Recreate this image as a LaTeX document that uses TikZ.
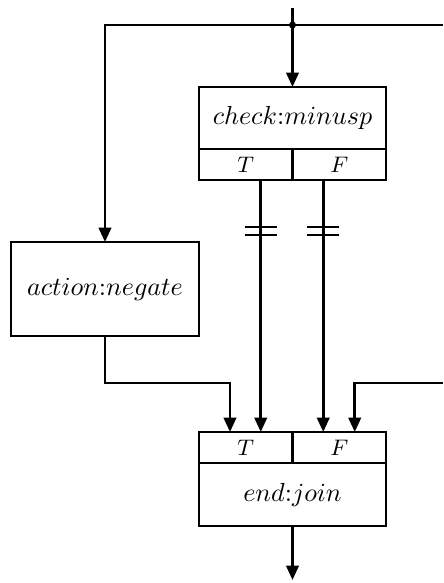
\documentclass[tikz,border=0pt]{standalone}
\usepackage{amsmath}
\usepackage{graphicx}
\usepackage{tikz}
\usetikzlibrary{arrows.meta}

\newcommand{\blocklabel}[1]{\scalebox{1.045}{$#1$}}

\begin{document}
\begin{tikzpicture}[x=0.4pt,y=-0.4pt]
        \tikzset{box/.style = {draw, rectangle, line width=1.1pt, inner sep=0pt, outer sep=0pt,
                               font=\normalsize}}
        \tikzset{cell/.style = {box, minimum width=37.4pt, minimum height=12.4pt,
                                font=\fontsize{8.6pt}{10pt}\selectfont}}
        \tikzset{edge/.style = {line width=1.1pt, -{Triangle[length=5.8pt,width=5pt]}}}
        \tikzset{wire/.style = {line width=1.1pt}}
        \tikzset{bar/.style = {line width=0.7pt}}

        \useasboundingbox (0,0) rectangle (443,583);

        \node[box, minimum width=74.8pt, minimum height=24.8pt] (chk) at (292.5,118) {\blocklabel{check{:}minusp}};
        \node[cell] (chkT) at (245.75,164.5) {$T$};
        \node[cell] (chkF) at (339.25,164.5) {$F$};

        \node[box, minimum width=75.2pt, minimum height=37.6pt] (neg) at (105,289) {\blocklabel{action{:}negate}};

        \node[cell] (joinT) at (245.75,447.5) {$T$};
        \node[cell] (joinF) at (339.25,447.5) {$F$};
        \node[box, minimum width=74.8pt, minimum height=25.2pt] (join) at (292.5,494.5) {\blocklabel{end{:}join}};

        \coordinate (start) at (292.5,8);
        \coordinate (split) at (292.5,25);
        \coordinate (outR) at (443,25);
        \coordinate (backR) at (443,383);
        \coordinate (negbend) at (230,383);
        \coordinate (stop) at (292.5,580);

        \draw[edge] (start) -- (chk);
        \fill (split) circle (1.4pt);
        \draw[edge] (split) -| (neg);
        \draw[wire] (split) -- (outR);

        \draw[edge] ([xshift=6pt]chkT.south) -- ([xshift=6pt]joinT.north);
        \draw[edge] ([xshift=-6.4pt]chkF.south) -- ([xshift=-6.4pt]joinF.north);

        \draw[bar] (245,227) -- (277,227);
        \draw[bar] (245,235) -- (277,235);
        \draw[bar] (307,227) -- (339,227);
        \draw[bar] (307,235) -- (339,235);

        \draw[edge] (neg) |- (negbend) -- (negbend |- joinT.north);
        \draw[edge] (backR) -| ([xshift=6.2pt]joinF.north);

        \draw[edge] (join) -- (stop);
    \end{tikzpicture}
\end{document}
